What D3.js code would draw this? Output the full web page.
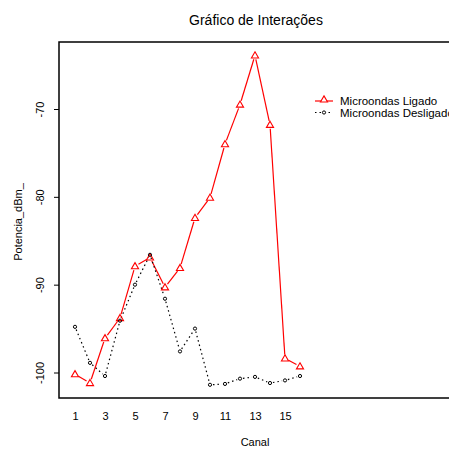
<!DOCTYPE html>
<html>
<head>
<meta charset="utf-8">
<script src="https://cdn.jsdelivr.net/npm/d3@7"></script>
<style>
  body { margin: 0; background: #fff; }
  svg text { font-family: "Liberation Sans", Arial, sans-serif; }
</style>
</head>
<body>
<div id="container"></div>
<script>
// canais e valores
var canais = [1, 2, 3, 4, 5, 6, 7, 8, 9, 10, 11, 12, 13, 14, 15, 16];
var ligado = [-100.2, -101.2, -96.1, -93.8, -87.9, -86.9, -90.3, -88.1, -82.4, -80.1, -74.0, -69.5, -63.9, -71.8, -98.4, -99.3];
var desligado = [-94.8, -98.9, -100.4, -94.1, -90.0, -86.6, -91.6, -97.6, -95.0, -101.4, -101.3, -100.7, -100.5, -101.2, -100.9, -100.4];
var xTicks = [1, 3, 5, 7, 9, 11, 13, 15];
var yTicks = [-100, -90, -80, -70];
var series = ["Microondas Ligado", "Microondas Desligado"];

var W = 449, H = 449;
var box = { left: 59, top: 42, right: 470, bottom: 398 };

var svg = d3.select("#container").append("svg")
    .attr("width", W).attr("height", H);

var x = d3.scaleLinear().domain([1, 15]).range([75, 285]);
var y = d3.scaleLinear().domain([-100, -70]).range([372.5, 109]);

// caixa do gráfico
svg.append("rect")
    .attr("x", box.left).attr("y", box.top)
    .attr("width", box.right - box.left).attr("height", box.bottom - box.top)
    .attr("fill", "none").attr("stroke", "#000").attr("stroke-width", 1.5);

// eixo y
var yAxis = svg.append("g").attr("transform", "translate(" + box.left + ",0)")
    .call(d3.axisLeft(y).tickValues(yTicks).tickSize(5).tickFormat(function (d) { return String(d); }));
yAxis.select(".domain").remove();
yAxis.selectAll("line").attr("stroke", "#000");
yAxis.selectAll("text")
    .attr("transform", "translate(-19,0) rotate(-90)")
    .attr("x", 0).attr("y", 0).attr("dy", "0.35em")
    .attr("text-anchor", "middle")
    .attr("font-size", 11).attr("fill", "#000");

// eixo x (só rótulos)
var xAxis = svg.append("g").attr("transform", "translate(0," + box.bottom + ")")
    .call(d3.axisBottom(x).tickValues(xTicks).tickSize(0).tickPadding(14));
xAxis.select(".domain").remove();
xAxis.selectAll("text").attr("font-size", 11).attr("fill", "#000");

// títulos
svg.append("text").text("Gráfico de Interações")
    .attr("x", 256).attr("y", 25).attr("text-anchor", "middle").attr("font-size", 14);
svg.append("text").text("Canal")
    .attr("x", 255).attr("y", 446).attr("text-anchor", "middle").attr("font-size", 11);
svg.append("text").text("Potencia_dBm_")
    .attr("transform", "translate(22,222) rotate(-90)")
    .attr("text-anchor", "middle").attr("font-size", 11);

// linhas com espaço em volta dos pontos (tipo "b")
function segments(vals, gap) {
    var segs = [];
    for (var i = 0; i < vals.length - 1; i++) {
        var x1 = x(canais[i]), y1 = y(vals[i]), x2 = x(canais[i + 1]), y2 = y(vals[i + 1]);
        var dx = x2 - x1, dy = y2 - y1, len = Math.sqrt(dx * dx + dy * dy);
        if (len <= 2 * gap) continue;
        var ux = dx / len, uy = dy / len;
        segs.push([x1 + ux * gap, y1 + uy * gap, x2 - ux * gap, y2 - uy * gap]);
    }
    return segs;
}

svg.append("g").selectAll("line").data(segments(ligado, 4)).enter().append("line")
    .attr("x1", function (d) { return d[0]; }).attr("y1", function (d) { return d[1]; })
    .attr("x2", function (d) { return d[2]; }).attr("y2", function (d) { return d[3]; })
    .attr("stroke", "#ff0000").attr("stroke-width", 1.2);

svg.append("g").selectAll("line").data(segments(desligado, 3)).enter().append("line")
    .attr("x1", function (d) { return d[0]; }).attr("y1", function (d) { return d[1]; })
    .attr("x2", function (d) { return d[2]; }).attr("y2", function (d) { return d[3]; })
    .attr("stroke", "#000").attr("stroke-width", 1.2).attr("stroke-dasharray", "1.5,3");

var tri = d3.symbol().type(d3.symbolTriangle).size(22);

svg.append("g").selectAll("path").data(ligado).enter().append("path")
    .attr("d", tri)
    .attr("transform", function (d, i) { return "translate(" + x(canais[i]) + "," + (y(d) + 0.5) + ")"; })
    .attr("fill", "none").attr("stroke", "#ff0000").attr("stroke-width", 1.1);

svg.append("g").selectAll("circle").data(desligado).enter().append("circle")
    .attr("cx", function (d, i) { return x(canais[i]); })
    .attr("cy", function (d) { return y(d); })
    .attr("r", 1.6)
    .attr("fill", "none").attr("stroke", "#000").attr("stroke-width", 1);

// legenda
var leg = svg.append("g");
leg.append("line").attr("x1", 315).attr("x2", 333).attr("y1", 101).attr("y2", 101)
    .attr("stroke", "#ff0000").attr("stroke-width", 1.2);
leg.append("path").attr("d", tri).attr("transform", "translate(324,100)")
    .attr("fill", "#fff").attr("stroke", "#ff0000").attr("stroke-width", 1.1);
leg.append("line").attr("x1", 315).attr("x2", 333).attr("y1", 112.5).attr("y2", 112.5)
    .attr("stroke", "#000").attr("stroke-width", 1.2).attr("stroke-dasharray", "1.5,3");
leg.append("circle").attr("cx", 324).attr("cy", 112.5).attr("r", 1.6)
    .attr("fill", "#fff").attr("stroke", "#000");
leg.selectAll("text").data(series).enter().append("text")
    .text(function (d) { return d; })
    .attr("x", 340).attr("y", function (d, i) { return 105 + i * 11.5; })
    .attr("font-size", 11.5);
</script>
</body>
</html>
